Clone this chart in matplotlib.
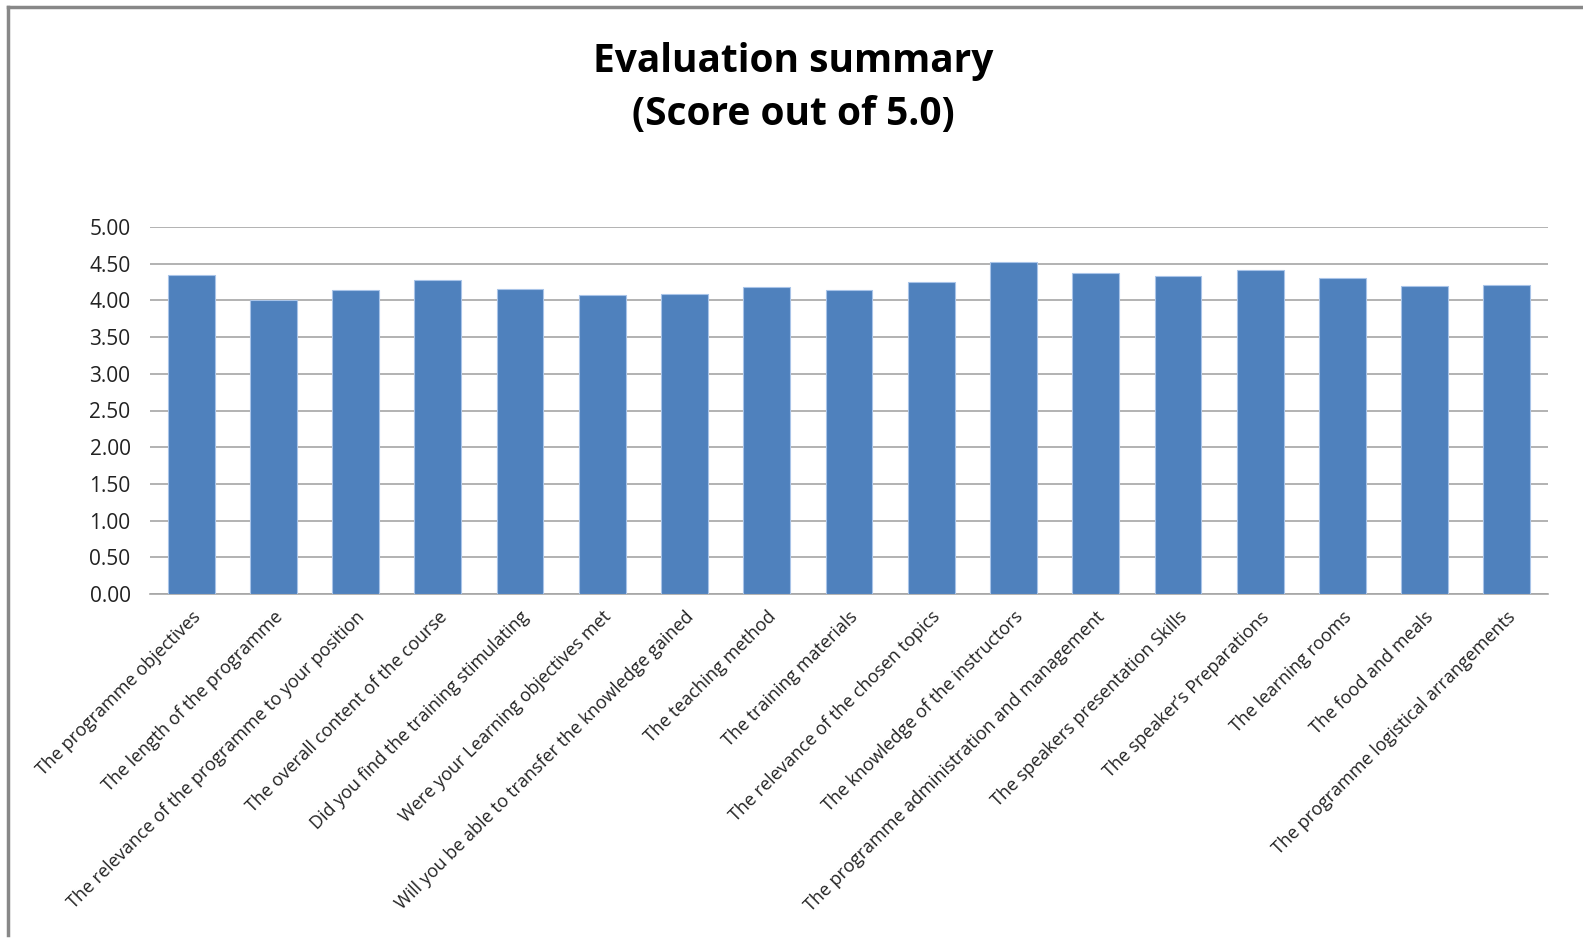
import matplotlib.pyplot as plt
import numpy as np
from matplotlib.lines import Line2D

plt.rcParams['font.family'] = ['Liberation Sans Narrow', 'Open Sans', 'DejaVu Sans']

# --- Data ---
categories = [
    'The programme objectives',
    'The length of the programme',
    'The relevance of the programme to your position',
    'The overall content of the course',
    'Did you find the training stimulating',
    'Were your Learning objectives met',
    'Will you be able to transfer the knowledge gained',
    'The teaching method',
    'The training materials',
    'The relevance of the chosen topics',
    'The knowledge of the instructors',
    'The programme administration and management',
    'The speakers presentation Skills',
    'The speaker\u2019s Preparations',
    'The learning rooms',
    'The food and meals',
    'The programme logistical arrangements',
]
scores = [4.35, 4.00, 4.14, 4.28, 4.16, 4.07, 4.09, 4.18, 4.14,
          4.25, 4.52, 4.38, 4.33, 4.42, 4.30, 4.19, 4.21]
y_ticks = [0.0, 0.5, 1.0, 1.5, 2.0, 2.5, 3.0, 3.5, 4.0, 4.5, 5.0]

W, H = 1583, 939
fig = plt.figure(figsize=(W / 100, H / 100), dpi=100)
ax = fig.add_axes([150 / W, 1 - 594 / H, (1548 - 150) / W, (594 - 227) / H])

x = np.arange(len(categories))
ax.bar(x, scores, width=0.57, color='#4f81bd', edgecolor='#a9c4e8', linewidth=0.8, zorder=3)

ax.set_xlim(-0.5, len(categories) - 0.5)
ax.set_ylim(0, 5)
ax.set_yticks(y_ticks)
ax.set_yticklabels([f'{v:.2f}' for v in y_ticks], fontsize=15, color='#222222')
ax.set_xticks(x)
ax.set_xticklabels(categories, rotation=45, ha='right', rotation_mode='anchor',
                   fontsize=13, color='#222222')
ax.tick_params(axis='both', length=0)
ax.tick_params(axis='y', pad=14)
ax.tick_params(axis='x', pad=10)

ax.grid(axis='y', color='#a6a6a6', linewidth=1.2, zorder=0)
for side in ['top', 'right', 'left']:
    ax.spines[side].set_visible(False)
ax.spines['bottom'].set_color('#a6a6a6')
ax.spines['bottom'].set_linewidth(1.2)

fig.text(793 / W, 1 - 88 / H, 'Evaluation summary\n(Score out of 5.0)',
         ha='center', va='center', fontsize=28, fontweight='bold',
         linespacing=1.45, color='black')

# outer frame (top and left edges only visible)
fig.add_artist(Line2D([8 / W, 1], [1 - 7 / H, 1 - 7 / H], transform=fig.transFigure,
                      color='#888888', linewidth=2.5))
fig.add_artist(Line2D([8 / W, 8 / W], [1 - 7 / H, 1 - 935 / H], transform=fig.transFigure,
                      color='#888888', linewidth=2.5))

fig.savefig('out.png', dpi=100)
plt.close(fig)
